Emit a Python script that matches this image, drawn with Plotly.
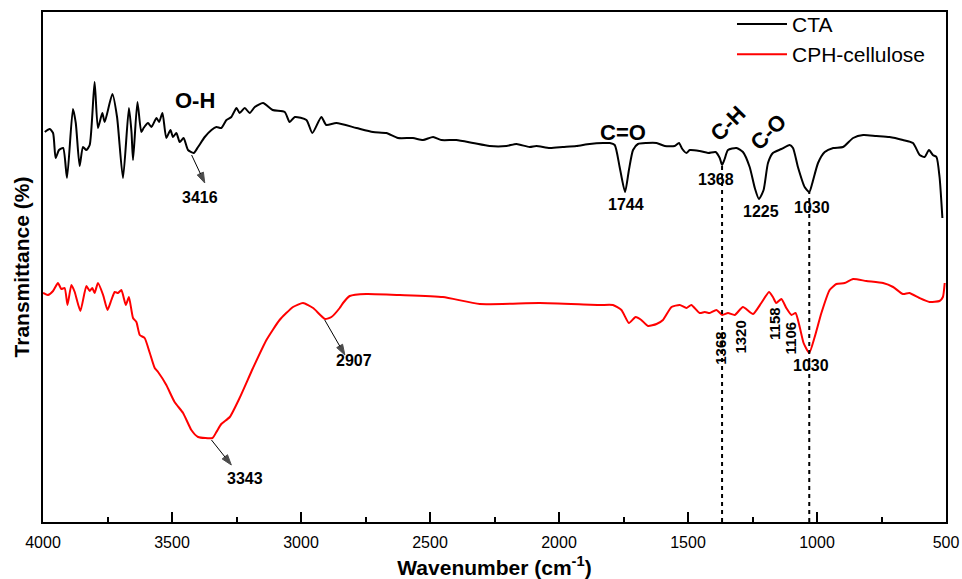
import numpy as np
import plotly.graph_objects as go

# ---------------- data ----------------
cta_wn = [3993, 3974, 3961, 3951, 3938, 3922, 3907, 3884, 3873, 3858, 3845, 3832, 3819, 3800,
          3787, 3770, 3761, 3731, 3713, 3690, 3667, 3657, 3651, 3634, 3619, 3610, 3593, 3580,
          3560, 3550, 3537, 3522, 3506, 3496, 3483, 3470, 3455, 3438, 3416, 3399, 3373, 3347,
          3328, 3309, 3289, 3270, 3250, 3238, 3218, 3199, 3179, 3147, 3110, 3063, 3044, 3024,
          2979, 2956, 2921, 2902, 2863, 2785, 2721, 2669, 2624, 2566, 2527, 2488, 2456, 2398,
          2333, 2269, 2204, 2165, 2114, 2088, 2036, 1985, 1933, 1881, 1829, 1803, 1784, 1765,
          1744, 1729, 1713, 1694, 1661, 1622, 1590, 1552, 1535, 1522, 1506, 1493, 1455, 1422,
          1393, 1377, 1368, 1358, 1345, 1312, 1287, 1261, 1241, 1225, 1207, 1190, 1171, 1138,
          1106, 1093, 1074, 1048, 1030, 1018, 996, 970, 937, 899, 860, 821, 770, 719, 667, 628,
          602, 583, 566, 551, 537, 525, 514]
cta_t = [390, 393, 389, 364, 372, 374, 344, 413, 399, 356, 375, 372, 377, 440,
         394, 409, 400, 428, 405, 344, 414, 390, 362, 420, 390, 394, 399, 395,
         404, 400, 409, 384, 392, 385, 389, 380, 384, 372, 369, 375, 385, 392,
         395, 394, 402, 405, 414, 409, 414, 409, 415, 419, 412, 410, 400, 405,
         402, 389, 405, 397, 399, 394, 390, 389, 384, 384, 382, 385, 382, 382,
         379, 376, 376, 378, 375, 376, 374, 375, 376, 378, 379, 379, 377, 355,
         330, 352, 372, 378, 379, 379, 376, 376, 379, 373, 369, 372, 371, 369,
         370, 364, 357, 363, 372, 374, 370, 355, 334, 323, 332, 359, 369, 373,
         377, 374, 355, 335, 330, 339, 359, 370, 374, 375, 384, 387, 386, 385, 382, 379,
         367, 365, 372, 367, 365, 345, 304]

cph_wn = [4000, 3981, 3961, 3942, 3929, 3916, 3905, 3890, 3877, 3855, 3832, 3819, 3809, 3800,
          3787, 3767, 3750, 3735, 3722, 3709, 3696, 3679, 3667, 3651, 3638, 3625, 3606, 3586,
          3567, 3554, 3522, 3490, 3457, 3425, 3399, 3343, 3328, 3309, 3276, 3238, 3186, 3134,
          3083, 3031, 2992, 2953, 2907, 2882, 2850, 2837, 2811, 2747, 2617, 2450, 2307, 2075,
          1842, 1791, 1758, 1729, 1703, 1681, 1655, 1622, 1597, 1564, 1532, 1506, 1487, 1455,
          1435, 1416, 1390, 1367, 1345, 1319, 1287, 1248, 1216, 1186, 1171, 1158, 1138, 1119,
          1099, 1083, 1067, 1052, 1030, 1009, 983, 951, 925, 893, 860, 809, 744, 705, 667,
          642, 603, 564, 525, 512, 505]
cph_t = [229, 227, 231, 239, 233, 234, 217, 237, 230, 211, 236, 231, 234, 229,
         239, 227, 212, 222, 230, 229, 232, 217, 225, 204, 200, 187, 184, 169,
         154, 150, 137, 120, 109, 92, 85, 84, 90, 98, 105, 124, 154, 182,
         202, 215, 219, 214, 203, 205, 214, 219, 226, 228, 227, 225, 218, 219,
         217, 217, 212, 199, 205, 202, 196, 198, 202, 215, 217, 214, 217, 209,
         210, 209, 212, 207, 209, 207, 215, 208, 219, 230, 225, 219, 223, 214,
         207, 209, 195, 179, 169, 185, 209, 232, 238, 239, 243, 241, 239, 235, 228,
         229, 224, 220, 221, 225, 239]

x_ticks = [4000, 3500, 3000, 2500, 2000, 1500, 1000, 500]
guide_wn = [1368, 1030]          # dashed guide lines

# labels: (wavenumber, transmittance, text, angle)
group_labels = [(3412, 422, "O-H", 0), (1753, 390, "C=O", 0),
                (1346, 399, "C-H", -45), (1191, 390, "C-O", -45)]
cta_peak_labels = [(1742, 318, "1744"), (1393, 343, "1368"),
                   (1218, 311, "1225"), (1020, 315, "1030")]
cph_peak_labels = [(1377, 174, "1368", -90), (1300, 185, "1320", -90),
                   (1167, 199, "1158", -90), (1103, 184, "1106", -90),
                   (1024, 157, "1030", 0)]
# arrows: (tail wn, tail T, head wn, head T, text, text wn, text T)
arrow_labels = [(3424, 367, 3373, 339, "3416", 3393, 325),
                (2908, 202, 2830, 167, "2907", 2796, 162),
                (3347, 82, 3270, 57, "3343", 3218, 44)]

FONT = "Liberation Sans, Arial, sans-serif"

fig = go.Figure()
fig.add_trace(go.Scatter(x=cta_wn, y=cta_t, mode="lines", name="CTA",
                         line=dict(color="black", width=2, shape="spline", smoothing=0.6)))
fig.add_trace(go.Scatter(x=cph_wn, y=cph_t, mode="lines", name="CPH-cellulose",
                         line=dict(color="#ff0000", width=2, shape="spline", smoothing=0.5)))

cta_sorted = np.argsort(cta_wn)
for g in guide_wn:
    top = float(np.interp(g, np.array(cta_wn)[cta_sorted], np.array(cta_t)[cta_sorted]))
    fig.add_trace(go.Scatter(x=[g, g], y=[0, top], mode="lines", showlegend=False,
                             hoverinfo="skip",
                             line=dict(color="black", width=2, dash="4px,4px")))

for tx, ty, hx, hy, t, lx, ly in arrow_labels:
    fig.add_trace(go.Scatter(x=[tx, hx], y=[ty, hy], mode="lines+markers",
                             showlegend=False, hoverinfo="skip",
                             line=dict(color="black", width=1),
                             marker=dict(symbol="arrow", size=[0, 11], angleref="previous",
                                         color="black", line=dict(width=1, color="black"))))

ann = []
for x, y, t, a in group_labels:
    ann.append(dict(x=x, y=y, text=f"<b>{t}</b>", textangle=a, showarrow=False,
                    font=dict(size=22, color="black", family=FONT)))
for x, y, t in cta_peak_labels:
    ann.append(dict(x=x, y=y, text=f"<b>{t}</b>", showarrow=False,
                    font=dict(size=16, color="black", family=FONT)))
for x, y, t, a in cph_peak_labels:
    ann.append(dict(x=x, y=y, text=f"<b>{t}</b>", textangle=a, showarrow=False,
                    font=dict(size=15 if a else 16, color="black", family=FONT)))
for tx, ty, hx, hy, t, lx, ly in arrow_labels:
    ann.append(dict(x=lx, y=ly, text=f"<b>{t}</b>", showarrow=False,
                    font=dict(size=16, color="black", family=FONT)))

fig.update_layout(
    width=962, height=579,
    margin=dict(l=43, r=16, t=12, b=57, autoexpand=False),
    paper_bgcolor="white", plot_bgcolor="white",
    font=dict(family=FONT, color="black"),
    annotations=ann,
    legend=dict(x=0.763, y=1.016, xanchor="left", yanchor="top",
                bgcolor="rgba(0,0,0,0)", itemwidth=50,
                font=dict(size=21, color="black", family=FONT),
                tracegroupgap=0),
    xaxis=dict(range=[4000, 500], tickvals=x_ticks, ticktext=[str(v) for v in x_ticks],
               ticks="inside", ticklen=10, tickwidth=1.5, tickcolor="black",
               minor=dict(dtick=250, ticks="inside", ticklen=5, tickwidth=1.5,
                          tickcolor="black", showgrid=False),
               showline=True, linewidth=2, linecolor="black", mirror=True,
               showgrid=False, zeroline=False, automargin=False,
               ticklabelstandoff=5,
               tickfont=dict(size=16, family=FONT, color="black"),
               title=dict(text="<b>Wavenumber (cm<sup>-1</sup>)</b>", standoff=11,
                          font=dict(size=21, family=FONT, color="black"))),
    yaxis=dict(range=[0, 510], showticklabels=False, ticks="",
               showline=True, linewidth=2, linecolor="black", mirror=True,
               showgrid=False, zeroline=False, automargin=False,
               title=dict(text="<b>Transmittance (%)</b>", standoff=6,
                          font=dict(size=21, family=FONT, color="black"))),
)

fig.write_html("out.html", config={"displayModeBar": False},
               post_script="document.body.style.margin='0px';document.body.style.overflow='hidden';")
